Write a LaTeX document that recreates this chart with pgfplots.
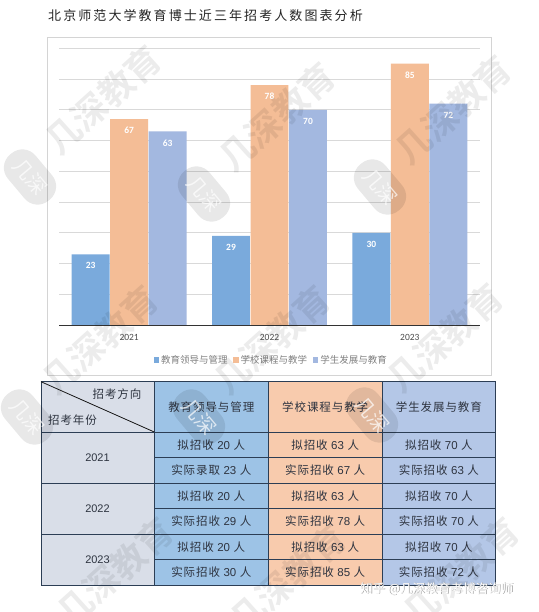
\documentclass[border=0pt]{standalone}
\usepackage{fontspec}
\usepackage{pgfplots}
\pgfplotsset{compat=1.18}
\setmainfont{Liberation Sans}
\newfontfamily\cj{Noto Sans CJK SC}
\newfontfamily\cjt[LetterSpace=16]{Noto Sans CJK SC}
\newfontfamily\cjc[LetterSpace=8]{Noto Sans CJK SC}
\newfontfamily\cjb[BoldFont={Noto Sans CJK SC Bold}]{Noto Sans CJK SC}
\newfontfamily\carl{Carlito}
\definecolor{barA}{HTML}{7AAADC}
\definecolor{barB}{HTML}{F4BD96}
\definecolor{barC}{HTML}{A3B8E0}
\definecolor{cellZ}{HTML}{D9DEE8}
\definecolor{cellA}{HTML}{9DC3E6}
\definecolor{cellB}{HTML}{F8CBAD}
\definecolor{cellC}{HTML}{B4C7E7}
\definecolor{tline}{HTML}{2C3E55}
\definecolor{ttext}{HTML}{2E3440}
\newcommand{\cjkcell}[1]{{\fontsize{11.5}{12}\cjc\textcolor{ttext}{#1}}}
\newcommand{\wm}[2]{%
  \node[rotate=42,opacity=.075,text=black,font=\fontsize{35}{36}\cjb\bfseries,inner sep=0pt] at (#1,#2) {几深教育};
  \node[rotate=-50,opacity=.09,fill=black,rounded corners=17pt,minimum width=60pt,minimum height=36pt,inner sep=0pt] at ($(#1,#2)+(-73,77)$) {};
  \node[rotate=-50,opacity=.7,text=white,font=\fontsize{20}{21}\cj,inner sep=0pt] at ($(#1,#2)+(-73,77)$) {几深};
}
\usetikzlibrary{calc}
\begin{document}
\begin{tikzpicture}
\begin{scope}[x=1pt,y=-1pt]
  \path[use as bounding box,fill=white] (0,0) rectangle (538,612);
  \node[anchor=west,inner sep=0pt,font=\fontsize{13}{14}\cjt,text=black!85] at (48,16) {北京师范大学教育博士近三年招考人数图表分析};
  \draw[draw=black!17,line width=.8pt] (47.3,37.3) rectangle (491.7,375.7);
\end{scope}
\begin{axis}[
  at={(59pt,-325pt)},anchor=south west,
  scale only axis,width=421pt,height=276.7pt,
  ybar=0.6pt,bar width=37.9pt,
  xmin=0.5,xmax=3.5,ymin=0,ymax=90,
  xtick={1,2,3},xticklabels={2021,2022,2023},
  ytick={0,10,...,90},yticklabels={},
  ymajorgrids,grid style={draw=black!15,line width=.6pt},
  axis x line=bottom,axis y line=left,
  x axis line style={draw=none,-},y axis line style={draw=none,-},
  major tick length=0pt,
  xticklabel style={font=\fontsize{9.5}{10}\carl,text=black!70,yshift=-5.5pt},
  nodes near coords={\pgfmathprintnumber[assume math mode=true]{\pgfplotspointmeta}},
  nodes near coords style={anchor=center,yshift=-11.5pt,text=white,font=\fontsize{9.5}{10}\carl\bfseries},
  legend columns=3,
  legend style={draw=none,fill=none,at={(0.504,-0.127)},anchor=center,
     font=\fontsize{9.5}{10}\cj,text=black!50,
     /tikz/every even column/.append style={column sep=3.5pt},inner sep=0pt},
  legend image code/.code={\fill[#1] (0pt,-2.8pt) rectangle (5.6pt,2.8pt);},
]
\addplot[draw=none,fill=barA] coordinates {(1,23) (2,29) (3,30)};
\addplot[draw=none,fill=barB] coordinates {(1,67) (2,78) (3,85)};
\addplot[draw=none,fill=barC] coordinates {(1,63) (2,70) (3,72)};
\legend{教育领导与管理,学校课程与教学,学生发展与教育}
\draw[draw=black!80,line width=1pt] (axis cs:0.5,0) -- (axis cs:3.5,0);
\end{axis}
\begin{scope}[x=1pt,y=-1pt]
  % table fills
  \fill[cellZ] (41,381.7) rectangle (154.3,585);
  \fill[cellA] (154.3,381.7) rectangle (268.3,585);
  \fill[cellB] (268.3,381.7) rectangle (382,585);
  \fill[cellC] (382,381.7) rectangle (495.7,585);
  % rules
  \draw[tline,line width=.9pt] (41,381.7) rectangle (495.7,585);
  \foreach \x in {154.3,268.3,382} \draw[tline,line width=.9pt] (\x,381.7) -- (\x,585);
  \foreach \y in {432,483,534} \draw[tline,line width=.9pt] (41,\y) -- (495.7,\y);
  \foreach \y in {457.7,508.3,559.3} \draw[tline,line width=.9pt] (154.3,\y) -- (495.7,\y);
  \draw[black!90,line width=.8pt] (41,381.7) -- (154.3,432);
  % header
  \node[inner sep=0pt] at (117,394.5) {\cjkcell{招考方向}};
  \node[inner sep=0pt] at (72.5,420) {\cjkcell{招考年份}};
  \node[inner sep=0pt] at (211.3,407.5) {\cjkcell{教育领导与管理}};
  \node[inner sep=0pt] at (325.2,407.5) {\cjkcell{学校课程与教学}};
  \node[inner sep=0pt] at (438.9,407.5) {\cjkcell{学生发展与教育}};
  % years
  \foreach \y/\t in {457.7/2021,508.3/2022,559.3/2023}
    \node[inner sep=0pt,font=\fontsize{11}{12}\selectfont,text=ttext] at (97.5,\y) {\t};
  % rows
  \newcommand{\cellr}[3]{\node[inner sep=0pt] at (#1,#2) {\cjkcell{#3}};}
  \cellr{211.3}{445.2}{拟招收 {\rmfamily 20} 人}
  \cellr{325.2}{445.2}{拟招收 {\rmfamily 63} 人}
  \cellr{438.9}{445.2}{拟招收 {\rmfamily 70} 人}
  \cellr{211.3}{470.5}{实际录取 {\rmfamily 23} 人}
  \cellr{325.2}{470.5}{实际招收 {\rmfamily 67} 人}
  \cellr{438.9}{470.5}{实际招收 {\rmfamily 63} 人}
  \cellr{211.3}{496}{拟招收 {\rmfamily 20} 人}
  \cellr{325.2}{496}{拟招收 {\rmfamily 63} 人}
  \cellr{438.9}{496}{拟招收 {\rmfamily 70} 人}
  \cellr{211.3}{521.5}{实际招收 {\rmfamily 29} 人}
  \cellr{325.2}{521.5}{实际招收 {\rmfamily 78} 人}
  \cellr{438.9}{521.5}{实际招收 {\rmfamily 70} 人}
  \cellr{211.3}{547}{拟招收 {\rmfamily 20} 人}
  \cellr{325.2}{547}{拟招收 {\rmfamily 63} 人}
  \cellr{438.9}{547}{拟招收 {\rmfamily 70} 人}
  \cellr{211.3}{572.3}{实际招收 {\rmfamily 30} 人}
  \cellr{325.2}{572.3}{实际招收 {\rmfamily 85} 人}
  \cellr{438.9}{572.3}{实际招收 {\rmfamily 72} 人}
  % watermarks
  \begin{scope}
  \clip (0,0) rectangle (538,612);
  \wm{103}{100}\wm{277}{117}\wm{453}{110}
  \wm{100}{340}\wm{272}{340}\wm{445}{338}
  \wm{115}{572}\wm{288}{579}\wm{461}{572}
  \end{scope}
  % site mark
  \node[anchor=west,inner sep=0pt,font=\fontsize{12.6}{13}\cj,text=black!40] at (360.6,589.6) {知乎 @几深教育考博咨询师};
  \node[anchor=west,inner sep=0pt,font=\fontsize{12.6}{13}\cj,text=white] at (360,589) {知乎 @几深教育考博咨询师};
\end{scope}
\end{tikzpicture}
\end{document}
